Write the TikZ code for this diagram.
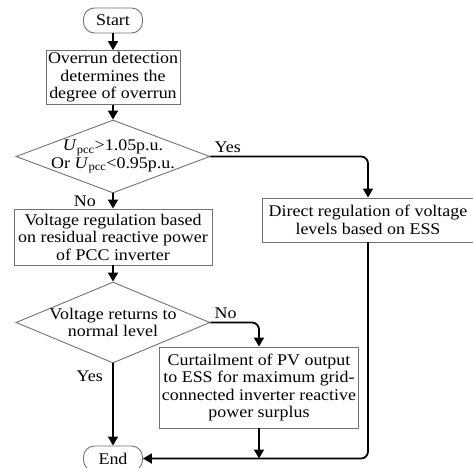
\documentclass[tikz,border=0pt]{standalone}
\usepackage{fontspec}
\setmainfont{Liberation Serif}[FakeStretch=1.1]
\usetikzlibrary{shapes,arrows.meta,positioning,calc}

\begin{document}
\begin{tikzpicture}[
    x=1pt, y=-1pt,
    font=\fontsize{16.3}{17.5}\selectfont,
    box/.style={rectangle, draw=black!55, line width=0.9pt, align=center, inner sep=2pt},
    term/.style={rectangle, rounded corners=11pt, draw=black!55, line width=0.9pt, minimum width=59pt, minimum height=25pt, inner sep=0pt},
    decision/.style={diamond, draw=black!55, line width=0.9pt, align=center, inner sep=-10pt, aspect=2.6},
    arrow/.style={-{Triangle[length=9pt,width=10pt]}, line width=1.8pt},
    tag/.style={font=\fontsize{16.3}{17.5}\selectfont}
]
\useasboundingbox (0,0) rectangle (473,467);

% main column
\node[term] (start) at (113,20.5) {Start};
\node[box, minimum width=134pt, minimum height=53pt] (overrun) at (113,77.5) {Overrun detection\\determines the\\degree of overrun};
\node[decision, minimum width=194pt, minimum height=73pt] (limit) at (113,156.5) {\textit{U}\textsubscript{pcc}>1.05p.u.\\Or \textit{U}\textsubscript{pcc}<0.95p.u.};
\node[box, minimum width=198pt, minimum height=56pt] (reactive) at (113,237) {Voltage regulation based\\on residual reactive power\\of PCC inverter};
\node[decision, minimum width=194pt, minimum height=81pt] (normal) at (113,322.5) {Voltage returns to\\normal level};
\node[term] (end) at (113,458.5) {End};

% side branches
\node[box, minimum width=212pt, minimum height=44pt] (ess) at (368,220) {Direct regulation of voltage\\levels based on ESS};
\node[box, minimum width=196pt, minimum height=81pt] (curtail) at (259,387.5) {Curtailment of PV output\\to ESS for maximum grid-\\connected inverter reactive\\power surplus};

% connectors
\draw[arrow] (start) -- (overrun);
\draw[arrow] (overrun) -- (limit);
\draw[arrow] (limit) -- node[tag, left=13pt] {No} (reactive);
\draw[arrow] (reactive) -- (normal);
\draw[arrow] (normal) -- node[tag, pos=0.16, left=6pt] {Yes} (end);
\draw[arrow, rounded corners=7pt] (limit.east) node[tag, above right] {Yes} -| (ess.north);
\draw[arrow, rounded corners=7pt] (normal.east) node[tag, above right] {No} -| (curtail.north);

\coordinate (join) at (curtail.south |- end.east);
\draw[arrow] (curtail) -- (join);
\draw[arrow, rounded corners=7pt] (ess.south) |- (end.east);

\end{tikzpicture}
\end{document}
